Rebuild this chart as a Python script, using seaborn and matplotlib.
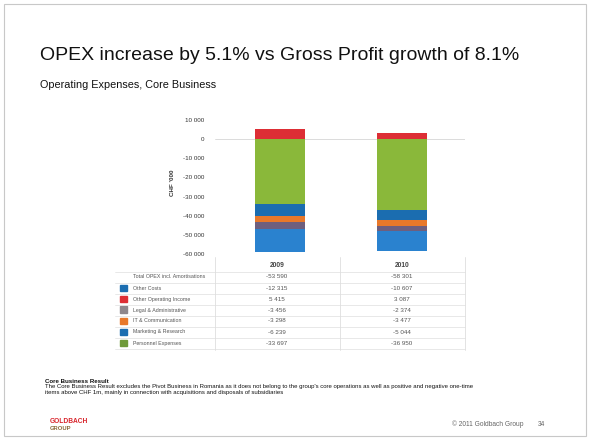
import numpy as np
import matplotlib
matplotlib.use("Agg")
import matplotlib.pyplot as plt
from matplotlib.patches import Rectangle
from matplotlib.lines import Line2D
import seaborn as sns

# ---- data ----
years = ["2009", "2010"]
total_opex = [-53590, -58301]
other_costs = [-12315, -10607]
other_income = [5415, 3087]
legal_admin = [-3456, -2374]
it_comm = [-3298, -3477]
marketing = [-6239, -5044]
personnel = [-33697, -36950]

row_labels = ["Total OPEX incl. Amortisations", "Other Costs", "Other Operating Income",
              "Legal & Administrative", "IT & Communication", "Marketing & Research",
              "Personnel Expenses"]
yticks = [10000, 0, -10000, -20000, -30000, -40000, -50000, -60000]

# ---- style ----
sns.set_theme(style="white")
plt.rcParams['font.family'] = ['Liberation Sans', 'DejaVu Sans']

W, H = 590, 440
fig = plt.figure(figsize=(W / 100, H / 100), dpi=100)
fig.patch.set_facecolor("white")

def fx(px):
    return px / W

def fy(py):
    return 1 - py / H

c_green = "#8ab83a"
c_mkt = "#1b6db0"
c_it = "#e8782a"
c_legal = "#6e5f7e"
c_other = "#2a82cf"
c_red = "#dd2e35"
c_legal_leg = "#8e878c"

ax = fig.add_axes([fx(215), fy(254), fx(465) - fx(215), (254 - 120) / H])

# stacked bars: positive income on top, negatives stacked downward
stack = [
    (other_income, c_red, None),
    (personnel, c_green, "neg"),
    (marketing, c_mkt, "neg"),
    (it_comm, c_it, "neg"),
    (legal_admin, c_legal, "neg"),
    (other_costs, c_other, "neg"),
]
neg_bottom = np.zeros(len(years))
for vals, col, kind in stack:
    vals = np.array(vals, dtype=float)
    if kind is None:
        sns.barplot(x=years, y=vals, color=col, saturation=1, width=0.41,
                    errorbar=None, ax=ax, linewidth=0)
    else:
        sns.barplot(x=years, y=vals, bottom=neg_bottom.copy(), color=col,
                    saturation=1, width=0.41, errorbar=None, ax=ax, linewidth=0)
        neg_bottom = neg_bottom + vals

ax.set_xlim(-0.53, 1.52)
ax.set_ylim(-60000, 10000)
ax.set_yticks(yticks)
ax.set_yticklabels([f"{v:,}".replace(",", " ") for v in yticks], fontsize=4.5, color="#333333")
ax.set_xticks([])
ax.set_xlabel("")
ax.set_ylabel("")
ax.tick_params(axis="y", length=0, pad=8)
for s in ax.spines.values():
    s.set_visible(False)
ax.axhline(0, color="#d6d6d6", lw=0.6, zorder=0)
ax.set_facecolor("white")

fig.text(fx(172), fy(183), "CHF '000", rotation=90, fontsize=4.5, fontweight="bold",
         ha="center", va="center", color="#333333")

# ---- titles ----
fig.text(fx(40), fy(56), "OPEX increase by 5.1% vs Gross Profit growth of 8.1%",
         fontsize=14, color="#111111", ha="left", va="center")
fig.text(fx(40), fy(85), "Operating Expenses, Core Business", fontsize=7.8,
         color="#111111", ha="left", va="center")

# ---- table ----
line_col = "#dedede"
fig.add_artist(Line2D([fx(215), fx(215)], [fy(257), fy(350)], color=line_col, lw=0.6))
fig.add_artist(Line2D([fx(340), fx(340)], [fy(257), fy(350)], color=line_col, lw=0.6))
fig.add_artist(Line2D([fx(465), fx(465)], [fy(257), fy(350)], color=line_col, lw=0.6))
fig.text(fx(277), fy(265), years[0], fontsize=4.8, fontweight="bold", ha="center", va="center", color="#444444")
fig.text(fx(402), fy(265), years[1], fontsize=4.8, fontweight="bold", ha="center", va="center", color="#444444")

rows = [total_opex, other_costs, other_income, legal_admin, it_comm, marketing, personnel]
leg_cols = [None, c_mkt, c_red, c_legal_leg, c_it, c_mkt, "#6f9a3a"]
for i, (lab, vals, lc) in enumerate(zip(row_labels, rows, leg_cols)):
    y = 277 + 11 * i
    fig.add_artist(Line2D([fx(115), fx(465)], [fy(y - 5.5), fy(y - 5.5)], color=line_col, lw=0.5))
    if lc is not None:
        fig.add_artist(Rectangle((fx(120), fy(y + 3)), fx(6.5), 6.5 / H, color=lc,
                                 transform=fig.transFigure))
    fig.text(fx(133), fy(y), lab, fontsize=3.8, ha="left", va="center", color="#555555")
    for j, cx in enumerate([277, 402]):
        fig.text(fx(cx), fy(y), f"{vals[j]:,}".replace(",", " "), fontsize=4.5,
                 ha="center", va="center", color="#555555")
fig.add_artist(Line2D([fx(115), fx(465)], [fy(348.5), fy(348.5)], color=line_col, lw=0.5))

# ---- footnote ----
fig.text(fx(45), fy(381), "Core Business Result", fontsize=4.4, fontweight="bold",
         ha="left", va="center", color="#111111")
fig.text(fx(45), fy(386.5),
         "The Core Business Result excludes the Pivot Business in Romania as it does not belong to the group's core operations as well as positive and negative one-time",
         fontsize=4.35, ha="left", va="center", color="#111111")
fig.text(fx(45), fy(392),
         "items above CHF 1m, mainly in connection with acquisitions and disposals of subsidiaries",
         fontsize=4.35, ha="left", va="center", color="#111111")

# ---- footer ----
fig.text(fx(50), fy(421), "GOLDBACH", fontsize=4.8, fontweight="bold", color="#d8242b",
         ha="left", va="center")
fig.text(fx(50), fy(428), "GROUP", fontsize=4.2, fontweight="bold", color="#8a6a3a",
         ha="left", va="center")
fig.text(fx(452), fy(424), "\u00a9 2011 Goldbach Group", fontsize=4.8, color="#666666",
         ha="left", va="center")
fig.text(fx(538), fy(424), "34", fontsize=4.8, color="#666666", ha="left", va="center")

# slide border
fig.add_artist(Rectangle((fx(4), fy(436)), fx(582), 432 / H, fill=False,
                         edgecolor="#c8c8c8", lw=0.8, transform=fig.transFigure))

fig.savefig("out.png", dpi=100, facecolor="white")
